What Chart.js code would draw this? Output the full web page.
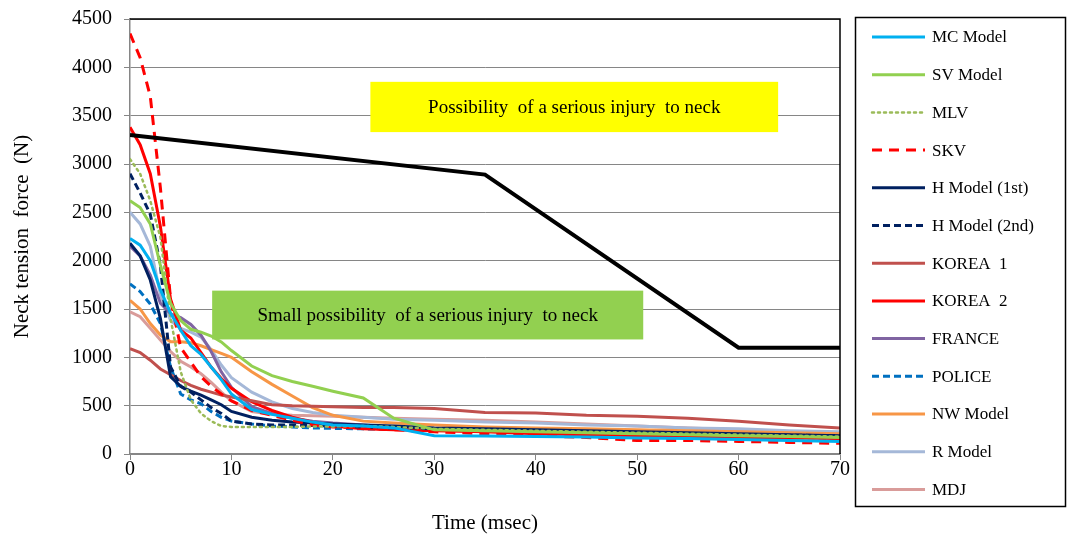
<!DOCTYPE html>
<html>
<head>
<meta charset="utf-8">
<script src="https://cdn.jsdelivr.net/npm/chart.js@4/dist/chart.umd.min.js"></script>
<style>
  body { margin: 0; background: #fff; }
</style>
</head>
<body>
<canvas id="myChart" width="1067" height="540"></canvas>
<script>
var times = [0,1,2,3,4,5,6,7,8,9,10,12,14,16,18,20,23,26,30,35,40,45,50,55,60,65,70];

var mcModel = [2230,2160,2000,1700,1455,1280,1120,1030,900,770,620,460,410,370,330,300,290,270,190,185,180,175,165,160,150,140,130];
var svModel = [2620,2550,2380,1950,1560,1380,1290,1260,1220,1160,1070,910,810,750,700,650,580,370,250,240,230,220,210,200,190,180,170];
var mlv     = [3050,2900,2620,2240,1400,850,560,420,340,290,280,280,280,280,285,285,290,280,260,250,240,230,220,210,200,190,180];
var skv     = [4350,4100,3700,2750,1600,1100,950,800,700,620,550,450,400,350,300,280,270,250,230,210,190,170,140,140,130,120,110];
var hModel1 = [2180,2050,1800,1400,800,700,650,610,560,510,440,380,350,330,320,310,300,290,270,260,250,240,230,220,210,200,190];
var hModel2 = [2900,2700,2480,1950,900,700,640,560,480,420,340,310,300,300,295,290,280,270,260,250,240,230,220,210,200,195,190];
var korea1  = [1090,1050,970,880,820,760,710,670,640,610,590,550,510,500,495,490,480,480,470,430,425,400,390,370,340,300,270];
var korea2  = [3380,3200,2900,2350,1600,1280,1200,1050,900,780,680,540,450,380,330,290,260,250,240,230,210,200,190,180,170,165,160];
var france  = [2150,2050,1850,1560,1450,1410,1340,1230,1060,850,690,490,420,370,340,320,300,280,260,240,230,220,210,200,195,190,180];
var police  = [1760,1680,1550,1350,900,620,560,520,440,380,340,310,290,280,270,265,260,255,250,240,230,210,200,190,180,170,165];
var nwModel = [1590,1500,1350,1230,1160,1160,1150,1120,1080,1040,1000,850,720,600,480,400,340,320,300,280,270,260,250,240,230,220,210];
var rModel  = [2500,2380,2150,1650,1380,1300,1260,1210,1080,920,790,640,540,470,430,400,380,360,350,330,320,300,290,270,260,240,230];
var mdj     = [1470,1420,1300,1180,1060,960,900,830,740,640,550,440,410,400,395,390,380,370,360,350,330,310,290,270,250,220,200];

var limitT = [0,35,60,70];
var limitN = [3300,2890,1100,1100];

var serif = "'Liberation Serif', 'Times New Roman', serif";

function pts(ts, vs) {
  return ts.map(function (t, i) { return { x: t, y: vs[i] }; });
}

var series = [
  { label: "MC Model",     data: mcModel, color: "#00B0F0", dash: [],     width: 3 },
  { label: "SV Model",     data: svModel, color: "#92D050", dash: [],     width: 3 },
  { label: "MLV",          data: mlv,     color: "#9BBB59", dash: [2,4],  width: 2.5 },
  { label: "SKV",          data: skv,     color: "#FF0000", dash: [10,7], width: 3 },
  { label: "H Model (1st)",data: hModel1, color: "#002060", dash: [],     width: 3 },
  { label: "H Model (2nd)",data: hModel2, color: "#002060", dash: [7,4],  width: 3 },
  { label: "KOREA  1",     data: korea1,  color: "#C0504D", dash: [],     width: 3 },
  { label: "KOREA  2",     data: korea2,  color: "#FF0000", dash: [],     width: 3 },
  { label: "FRANCE",       data: france,  color: "#8064A2", dash: [],     width: 3 },
  { label: "POLICE",       data: police,  color: "#0070C0", dash: [7,4],  width: 3 },
  { label: "NW Model",     data: nwModel, color: "#F79646", dash: [],     width: 3 },
  { label: "R Model",      data: rModel,  color: "#A5B8D8", dash: [],     width: 3 },
  { label: "MDJ",          data: mdj,     color: "#D99C9A", dash: [],     width: 3 }
];

var datasets = [{
  label: "limit",
  data: pts(limitT, limitN),
  borderColor: "#000",
  borderWidth: 4,
  pointRadius: 0,
  fill: false
}];
series.forEach(function (s) {
  datasets.push({
    label: s.label,
    data: pts(times, s.data),
    borderColor: s.color,
    borderWidth: s.width,
    borderDash: s.dash,
    borderCapStyle: s.dash.length && s.dash[0] < 3 ? "round" : "butt",
    pointRadius: 0,
    fill: false
  });
});

// text boxes, plot border and legend
var extras = {
  id: "extras",
  afterDatasetsDraw: function (chart) {
    var c = chart.ctx, xs = chart.scales.x, ys = chart.scales.y;
    function box(t0, t1, n0, n1, fill, text) {
      var x0 = xs.getPixelForValue(t0), x1 = xs.getPixelForValue(t1);
      var y0 = ys.getPixelForValue(n0), y1 = ys.getPixelForValue(n1);
      c.save();
      c.fillStyle = fill;
      c.fillRect(x0, y0, x1 - x0, y1 - y0);
      c.fillStyle = "#000";
      c.font = "19px " + serif;
      c.textAlign = "center";
      c.textBaseline = "middle";
      c.fillText(text, (x0 + x1) / 2, (y0 + y1) / 2 + 1);
      c.restore();
    }
    box(23.7, 63.9, 3850, 3330, "#FFFF00", "Possibility  of a serious injury  to neck");
    box(8.1, 50.6, 1690, 1185, "#92D050", "Small possibility  of a serious injury  to neck");
  },
  afterDraw: function (chart) {
    var c = chart.ctx, a = chart.chartArea;
    c.save();
    c.strokeStyle = "#000";
    c.lineWidth = 1.5;
    c.beginPath();
    c.moveTo(a.left, a.top);
    c.lineTo(a.right, a.top);
    c.lineTo(a.right, a.bottom);
    c.stroke();

    // legend
    c.lineWidth = 1.5;
    c.strokeRect(855.5, 17.5, 210, 489);
    c.font = "17px " + serif;
    c.textBaseline = "middle";
    c.textAlign = "left";
    series.forEach(function (s, i) {
      var y = 37 + i * 37.7;
      c.strokeStyle = s.color;
      c.lineWidth = s.width;
      c.setLineDash(s.dash);
      c.lineCap = s.dash.length && s.dash[0] < 3 ? "round" : "butt";
      c.beginPath();
      c.moveTo(872, y);
      c.lineTo(925, y);
      c.stroke();
      c.setLineDash([]);
      c.fillStyle = "#000";
      c.fillText(s.label, 932, y + 1);
    });
    c.restore();
  }
};

new Chart("myChart", {
  type: "line",
  data: { datasets: datasets },
  options: {
    responsive: false,
    animation: false,
    layout: { padding: { top: 19, right: 227, bottom: 0, left: 0 } },
    plugins: { legend: { display: false }, tooltip: { enabled: false } },
    elements: { line: { tension: 0 } },
    scales: {
      x: {
        type: "linear",
        min: 0, max: 70,
        afterFit: function (s) { s.height = 86; },
        ticks: { stepSize: 10, color: "#000", padding: -2, font: { family: serif, size: 20 } },
        grid: { drawOnChartArea: false, drawTicks: true, tickLength: 6, color: "#868686" },
        border: { color: "#868686", width: 1.5 },
        title: { display: true, text: "Time (msec)", color: "#000", padding: { top: 8 }, font: { family: serif, size: 21 } }
      },
      y: {
        min: 0, max: 4500,
        afterFit: function (s) { s.width = 130; s.paddingTop = 0; s.paddingBottom = 0; },
        ticks: { stepSize: 500, color: "#000", padding: 12, font: { family: serif, size: 20 },
                 callback: function (v) { return String(v); } },
        grid: { color: "#868686", lineWidth: 1, tickLength: 6 },
        border: { color: "#868686", width: 1.5 },
        title: { display: true, text: "Neck tension  force  (N)", color: "#000", padding: { top: 10, bottom: 0 }, font: { family: serif, size: 21 } }
      }
    }
  },
  plugins: [extras]
});
</script>
</body>
</html>
